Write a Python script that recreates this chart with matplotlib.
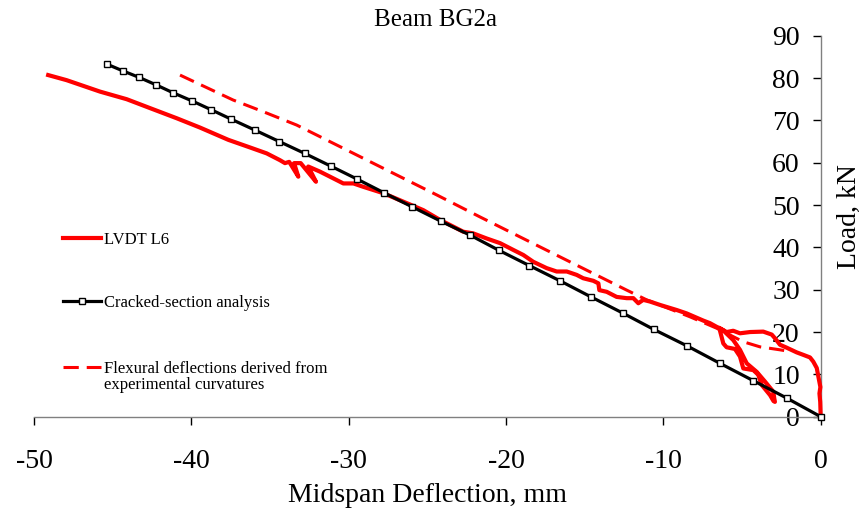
import matplotlib
matplotlib.use("Agg")
import matplotlib.pyplot as plt
from matplotlib.lines import Line2D

# LVDT L6 measured load-deflection path (mm, kN), in loading order
lvdt_x = [0.0, -0.03, -0.08, -0.02, -0.15, -0.25, -0.47, -0.68, -1.1, -1.53, -2.16, -2.59,
          -2.9, -3.11, -3.65, -4.49, -5.13, -5.56, -5.98, -6.45,
          -6.19, -5.98, -5.45, -5.13, -4.92, -4.28, -3.97, -3.75, -3.22, -3.0, -2.91,
          -2.95, -3.01, -3.54, -4.07, -4.70, -5.13, -5.56, -6.2, -6.5,
          -7.04, -7.46, -8.52, -9.15, -10.21, -10.85, -11.28, -11.59, -11.91, -12.33, -12.97,
          -13.6, -14.07, -14.13, -14.45, -15.09, -15.51, -16.14, -16.78, -17.42, -18.27,
          -18.9, -19.54, -20.38, -21.23, -22.08, -22.72, -22.93, -24.2, -25.26, -26.53,
          -27.8, -29.07, -29.7, -30.34, -31.19, -31.83, -32.57, -32.08, -33.05, -33.47,
          -33.2, -33.78, -34.05, -34.37, -35.21, -36.27, -37.65, -39.45, -40.93, -42.63,
          -44.11, -45.81, -47.93, -49.1]
lvdt_y = [0.0, 3.5, 5.5, 7.0, 9.5, 11.5, 13.0, 14.0, 14.6, 15.2, 16.3, 17.0,
          18.5, 19.4, 20.1, 20.0, 19.7, 20.3, 20.0, 21.0,
          17.3, 16.4, 16.0, 14.2, 11.4, 11.0, 9.9, 7.5, 5.1, 3.7, 3.5,
          4.3, 5.9, 8.3, 10.6, 12.6, 15.8, 18.1, 20.4, 21.0,
          22.1, 22.7, 24.4, 25.2, 26.4, 27.2, 27.6, 26.8, 28.0, 28.0, 28.3,
          29.5, 29.9, 31.5, 32.1, 32.7, 33.5, 34.3, 34.3, 35.1, 36.6,
          38.2, 39.4, 41.0, 42.1, 43.3, 43.7, 44.1, 46.5, 48.8, 50.8,
          52.8, 54.3, 55.1, 55.1, 56.7, 57.9, 59.1, 55.5, 59.9, 59.9,
          56.7, 60.2, 59.9, 60.6, 62.2, 63.6, 65.4, 68.3, 70.5, 72.9,
          75.0, 76.8, 79.5, 80.7]

# cracked-section analysis
crack_x = [-45.38, -44.36, -43.35, -42.25, -41.15, -39.96, -38.73, -37.48, -35.96, -34.41,
           -32.80, -31.14, -29.45, -27.76, -25.98, -24.15, -22.29, -20.45, -18.52, -16.57,
           -14.60, -12.59, -10.60, -8.48, -6.40, -4.28, -2.16, 0.0]
crack_y = [83.3, 81.7, 80.2, 78.4, 76.5, 74.6, 72.5, 70.3, 67.7, 65.0,
           62.2, 59.2, 56.1, 52.9, 49.6, 46.2, 42.9, 39.3, 35.7, 32.1,
           28.3, 24.5, 20.6, 16.7, 12.6, 8.5, 4.4, 0.0]

# flexural deflections derived from experimental curvatures
flex_x = [-40.72, -37.34, -35.43, -33.31, -30.34, -27.38, -24.41, -21.66, -18.48, -15.30,
          -12.33, -11.06, -8.31, -6.61, -4.92, -3.86, -2.59, -1.95]
flex_y = [80.7, 74.8, 72.05, 68.9, 63.4, 57.9, 52.4, 47.2, 41.3, 35.4,
          29.9, 27.6, 23.6, 20.9, 17.7, 16.5, 15.8, 15.4]

x_ticks = [-50, -40, -30, -20, -10, 0]
y_ticks = [0, 10, 20, 30, 40, 50, 60, 70, 80, 90]

plt.rcParams["font.family"] = ["Liberation Serif", "DejaVu Serif"]
plt.rcParams["axes.unicode_minus"] = False

fig = plt.figure(figsize=(8.66, 5.12), dpi=100)
ax = fig.add_axes([34 / 866, 1 - 416.7 / 512, 786.7 / 866, 381 / 512])

lvdt, = ax.plot(lvdt_x, lvdt_y, color="#ff0000", lw=3, solid_joinstyle="round",
                clip_on=False, zorder=3)
crack, = ax.plot(crack_x, crack_y, color="black", lw=2.3, marker="s", ms=5,
                 mfc="white", mec="black", mew=1, clip_on=False, zorder=4)
flex, = ax.plot(flex_x, flex_y, color="#ff0000", lw=2.2, dashes=(5, 2.6),
                clip_on=False, zorder=2)

ax.set_xlim(-50, 0)
ax.set_ylim(0, 90)
ax.set_xticks(x_ticks)
ax.set_yticks(y_ticks)

for side in ["top", "right"]:
    ax.spines[side].set_visible(False)
ax.spines["left"].set_position(("data", 0))
for side in ["left", "bottom"]:
    ax.spines[side].set_color("#808080")
    ax.spines[side].set_linewidth(1.0)

ax.tick_params(axis="x", direction="out", length=6, width=1, pad=17, labelsize=20)
ax.tick_params(axis="y", direction="out", length=6, width=1, pad=9, labelsize=20)

ax.set_xlabel("Midspan Deflection, mm", fontsize=20, labelpad=7)
ax.text(1.036, 0.524, "Load, kN", transform=ax.transAxes, rotation=90,
        ha="center", va="center", fontsize=20)
fig.text(435 / 866, 1 - 20 / 512, "Beam BG2a", ha="center", va="center", fontsize=18)

leg_kw = dict(loc="center left", frameon=False, fontsize=12, borderpad=0,
              borderaxespad=0, handlelength=2.3, handletextpad=0.15)
leg1 = ax.legend([lvdt], ["LVDT L6"], bbox_to_anchor=(0.037, 0.4638), **leg_kw)
ax.add_artist(leg1)
leg2 = ax.legend([crack], ["Cracked-section analysis"], bbox_to_anchor=(0.037, 0.2984), **leg_kw)
ax.add_artist(leg2)
blank = Line2D([], [], color="none")
ax.legend([flex, blank], ["Flexural deflections derived from", "experimental curvatures"],
          bbox_to_anchor=(0.037, 0.1042), labelspacing=0.05, **leg_kw)

fig.savefig("out.png", dpi=100)
